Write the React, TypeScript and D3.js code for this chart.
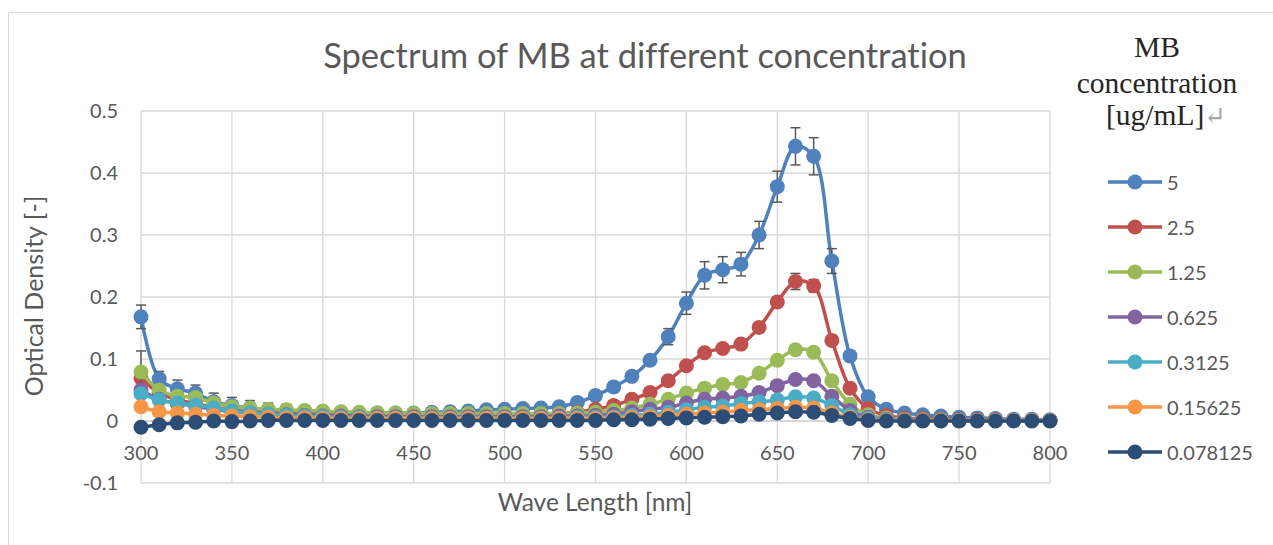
import * as React from "react";
import * as d3 from "d3";

// wavelength grid [nm]
const waveLengths = [
  300, 310, 320, 330, 340, 350, 360, 370, 380, 390,
  400, 410, 420, 430, 440, 450, 460, 470, 480, 490,
  500, 510, 520, 530, 540, 550, 560, 570, 580, 590,
  600, 610, 620, 630, 640, 650, 660, 670, 680, 690,
  700, 710, 720, 730, 740, 750, 760, 770, 780, 790, 800,
];

const concLabels = ["5", "2.5", "1.25", "0.625", "0.3125", "0.15625", "0.078125"];
const colors = ["#4F81BD", "#C0504D", "#9BBB59", "#8064A2", "#4BACC6", "#F79646", "#2C4D75"];

// optical density per concentration
const od5 = [
  0.168, 0.068, 0.052, 0.045, 0.031, 0.025, 0.021, 0.018, 0.017, 0.016,
  0.015, 0.014, 0.013, 0.013, 0.013, 0.013, 0.014, 0.015, 0.016, 0.018,
  0.019, 0.020, 0.021, 0.023, 0.030, 0.041, 0.055, 0.072, 0.098, 0.136,
  0.190, 0.235, 0.244, 0.253, 0.300, 0.378, 0.443, 0.427, 0.258, 0.105,
  0.039, 0.019, 0.013, 0.010, 0.008, 0.006, 0.005, 0.004, 0.003, 0.003, 0.002,
];
const od25 = [
  0.069, 0.045, 0.034, 0.028, 0.022, 0.018, 0.015, 0.013, 0.012, 0.011,
  0.010, 0.009, 0.009, 0.008, 0.008, 0.008, 0.008, 0.009, 0.009, 0.010,
  0.010, 0.010, 0.011, 0.012, 0.014, 0.019, 0.025, 0.035, 0.046, 0.065,
  0.089, 0.110, 0.117, 0.124, 0.151, 0.192, 0.225, 0.218, 0.130, 0.053,
  0.020, 0.009, 0.005, 0.004, 0.003, 0.002, 0.002, 0.002, 0.001, 0.001, 0.001,
];
const od125 = [
  0.079, 0.050, 0.040, 0.038, 0.029, 0.023, 0.021, 0.019, 0.018, 0.017,
  0.016, 0.015, 0.014, 0.013, 0.013, 0.012, 0.012, 0.012, 0.012, 0.012,
  0.012, 0.012, 0.012, 0.012, 0.013, 0.014, 0.017, 0.021, 0.027, 0.035,
  0.045, 0.053, 0.059, 0.062, 0.077, 0.098, 0.115, 0.111, 0.065, 0.027,
  0.010, 0.005, 0.003, 0.002, 0.002, 0.001, 0.001, 0.001, 0.001, 0.001, 0.001,
];
const od0625 = [
  0.050, 0.035, 0.028, 0.024, 0.019, 0.015, 0.013, 0.011, 0.010, 0.009,
  0.008, 0.008, 0.007, 0.007, 0.007, 0.007, 0.007, 0.007, 0.007, 0.007,
  0.007, 0.007, 0.007, 0.008, 0.008, 0.009, 0.011, 0.015, 0.019, 0.022,
  0.029, 0.035, 0.037, 0.040, 0.046, 0.057, 0.067, 0.065, 0.040, 0.017,
  0.006, 0.003, 0.002, 0.001, 0.001, 0.001, 0.001, 0.001, 0.001, 0.001, 0.001,
];
const od03125 = [
  0.044, 0.034, 0.029, 0.026, 0.021, 0.016, 0.013, 0.011, 0.009, 0.008,
  0.007, 0.006, 0.006, 0.005, 0.005, 0.005, 0.005, 0.005, 0.005, 0.005,
  0.005, 0.005, 0.005, 0.005, 0.006, 0.006, 0.007, 0.009, 0.011, 0.014,
  0.018, 0.022, 0.024, 0.028, 0.031, 0.034, 0.039, 0.037, 0.025, 0.010,
  0.004, 0.002, 0.001, 0.001, 0.001, 0.001, 0.001, 0.001, 0.001, 0.001, 0.001,
];
const od015625 = [
  0.023, 0.015, 0.013, 0.011, 0.009, 0.008, 0.007, 0.006, 0.005, 0.005,
  0.004, 0.004, 0.004, 0.004, 0.004, 0.004, 0.004, 0.004, 0.004, 0.004,
  0.004, 0.004, 0.004, 0.004, 0.004, 0.004, 0.005, 0.006, 0.007, 0.009,
  0.011, 0.013, 0.014, 0.017, 0.018, 0.020, 0.022, 0.021, 0.013, 0.006,
  0.002, 0.001, 0.001, 0.001, 0.001, 0.001, 0.001, 0.001, 0.001, 0.001, 0.001,
];
const od0078125 = [
  -0.010, -0.006, -0.003, -0.002, 0.000, -0.001, 0.000, 0.001, 0.001, 0.001,
  0.001, 0.001, 0.001, 0.001, 0.001, 0.001, 0.001, 0.001, 0.001, 0.001,
  0.001, 0.001, 0.001, 0.001, 0.001, 0.001, 0.002, 0.002, 0.003, 0.004,
  0.005, 0.006, 0.007, 0.008, 0.011, 0.013, 0.015, 0.014, 0.009, 0.004,
  0.001, 0.000, 0.000, 0.000, 0.000, 0.000, 0.000, 0.000, 0.000, 0.000, 0.000,
];

// error bars (+/-)
const err5 = [
  0.019, 0.012, 0.014, 0.013, 0.014, 0.013, 0.012, 0.011, 0.010, 0.009,
  0.006, 0, 0, 0, 0, 0, 0, 0, 0, 0,
  0, 0, 0, 0, 0, 0, 0, 0, 0.006, 0.013,
  0.018, 0.022, 0.021, 0.019, 0.022, 0.025, 0.030, 0.030, 0.020, 0.005,
  0, 0, 0, 0, 0, 0, 0, 0, 0, 0, 0,
];
const err25 = [
  0, 0, 0, 0, 0, 0, 0, 0, 0, 0,
  0, 0, 0, 0, 0, 0, 0, 0, 0, 0,
  0, 0, 0, 0, 0, 0, 0, 0, 0, 0,
  0, 0, 0, 0, 0, 0.008, 0.013, 0.010, 0.005, 0,
  0, 0, 0, 0, 0, 0, 0, 0, 0, 0, 0,
];
const err125 = [
  0.034, 0, 0, 0, 0, 0, 0, 0, 0, 0,
  0, 0, 0, 0, 0, 0, 0, 0, 0, 0,
  0, 0, 0, 0, 0, 0, 0, 0, 0, 0,
  0, 0, 0, 0, 0, 0, 0, 0, 0, 0,
  0, 0, 0, 0, 0, 0, 0, 0, 0, 0, 0,
];

const allValues = [od5, od25, od125, od0625, od03125, od015625, od0078125];
const allErrors = [err5, err25, err125, null, null, null, null];

const xTicks = [300, 350, 400, 450, 500, 550, 600, 650, 700, 750, 800];
const yTicks = [-0.1, 0, 0.1, 0.2, 0.3, 0.4, 0.5];

const sans = "Lato, 'Open Sans', sans-serif";
const serif = "'Liberation Serif', 'DejaVu Serif', serif";
const textColor = "#595959";
const noLiga = { fontVariantLigatures: "none" as const };

export default function App() {
  const width = 1273;
  const height = 545;

  const x = d3.scaleLinear().domain([300, 800]).range([141, 1050]);
  const y = d3.scaleLinear().domain([-0.1, 0.5]).range([483, 111]);

  const line = d3
    .line<number>()
    .x((_, i) => x(waveLengths[i]))
    .y((d) => y(d))
    .curve(d3.curveCatmullRom.alpha(0.5));

  const r = 7.5;
  const legendY = d3.scaleLinear().domain([0, 1]).range([182, 227]);

  return (
    <svg
      width={width}
      height={height}
      style={{ position: "absolute", left: 0, top: 0, background: "#fff" }}
    >
      {/* chart frame */}
      <line x1={8.5} y1={12.5} x2={width} y2={12.5} stroke="#d9d9d9" strokeWidth={1} />
      <line x1={8.5} y1={12.5} x2={8.5} y2={height} stroke="#d9d9d9" strokeWidth={1} />

      {/* grid */}
      {xTicks.map((t) => (
        <line key={"gx" + t} x1={x(t)} x2={x(t)} y1={y(0.5)} y2={y(-0.1)} stroke="#d9d9d9" strokeWidth={1.3} />
      ))}
      {yTicks.map((t) => (
        <line
          key={"gy" + t}
          x1={x(300)}
          x2={x(800)}
          y1={y(t)}
          y2={y(t)}
          stroke={t === 0 ? "#c8c8c8" : "#d9d9d9"}
          strokeWidth={t === 0 ? 1.5 : 1.3}
        />
      ))}

      {/* series */}
      {allValues.map((vals, si) => {
        const err = allErrors[si];
        return (
          <g key={"s" + si}>
            <path d={line(vals) || ""} fill="none" stroke={colors[si]} strokeWidth={3.5} />
            {err &&
              vals.map((v, i) =>
                err[i] > 0 ? (
                  <g key={"e" + i} stroke="#595959" strokeWidth={1.5}>
                    <line x1={x(waveLengths[i])} x2={x(waveLengths[i])} y1={y(v + err[i])} y2={y(v - err[i])} />
                    <line x1={x(waveLengths[i]) - 5} x2={x(waveLengths[i]) + 5} y1={y(v + err[i])} y2={y(v + err[i])} />
                    <line x1={x(waveLengths[i]) - 5} x2={x(waveLengths[i]) + 5} y1={y(v - err[i])} y2={y(v - err[i])} />
                  </g>
                ) : null
              )}
            {vals.map((v, i) => (
              <circle key={"m" + i} cx={x(waveLengths[i])} cy={y(v)} r={r} fill={colors[si]} />
            ))}
          </g>
        );
      })}

      {/* axes labels */}
      {yTicks.map((t) => (
        <text
          key={"ty" + t}
          x={118}
          y={y(t) + 7}
          textAnchor="end"
          fontFamily={sans}
          fontSize={20}
          fill={textColor}
        >
          {String(Math.round(t * 10) / 10)}
        </text>
      ))}
      {xTicks.map((t) => (
        <text
          key={"tx" + t}
          x={x(t)}
          y={460}
          textAnchor="middle"
          fontFamily={sans}
          fontSize={20}
          fill={textColor}
        >
          {t}
        </text>
      ))}

      <text x={595} y={511} textAnchor="middle" fontFamily={sans} fontSize={24.5} fill={textColor}>
        Wave Length [nm]
      </text>
      <text
        transform="translate(43,296) rotate(-90)"
        textAnchor="middle"
        fontFamily={sans}
        fontSize={25}
        fill={textColor}
      >
        Optical Density [-]
      </text>

      {/* title */}
      <text x={645} y={68} textAnchor="middle" fontFamily={sans} fontSize={34.5} fill={textColor} style={noLiga}>
        Spectrum of MB at different concentration
      </text>

      {/* legend */}
      <g fontFamily={serif} fontSize={29.5} fill="#262626" textAnchor="middle">
        <text x={1157} y={57}>MB</text>
        <text x={1157} y={93}>concentration</text>
        <text x={1166} y={125}>
          [ug/mL]
          <tspan fill="#a6a6a6" fontSize={26}>↵</tspan>
        </text>
      </g>
      {concLabels.map((name, i) => {
        const ly = legendY(i);
        return (
          <g key={"l" + i}>
            <line x1={1108} x2={1162} y1={ly} y2={ly} stroke={colors[i]} strokeWidth={3.5} />
            <circle cx={1135} cy={ly} r={r} fill={colors[i]} />
            <text x={1167} y={ly + 8} fontFamily={sans} fontSize={20} fill={textColor}>
              {name}
            </text>
          </g>
        );
      })}
    </svg>
  );
}
